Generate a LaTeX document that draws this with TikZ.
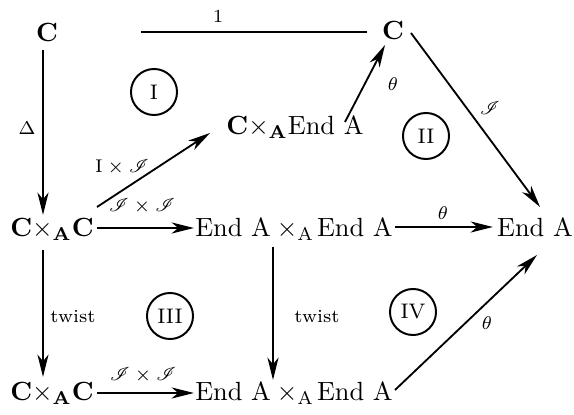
\documentclass[tikz,border=0pt]{standalone}
\usepackage{mathrsfs}
\usetikzlibrary{arrows.meta,calc}
\tikzset{
  obj/.style={anchor=base,inner sep=0pt,font=\normalsize},
  arr/.style={-{Stealth[length=8.5pt,width=4.2pt,inset=2.5pt]},line width=0.7pt},
  plainline/.style={line width=0.7pt},
  lbl/.style={font=\scriptsize,inner sep=0pt},
  reg/.style={draw,circle,line width=0.75pt,minimum size=17.5pt,inner sep=0pt,font=\footnotesize},
}
\begin{document}
\begin{tikzpicture}[x=0.38pt,y=-0.38pt]
\useasboundingbox (0,0) rectangle (574,415);
% objects
\node[obj] (C1) at (47,42) {$\mathbf{C}$};
\node[obj] (C2) at (393,40) {$\mathbf{C}$};
\node[obj] (CE) at (295,135) {$\mathbf{C}{\times}_{\mathbf{A}}\mbox{End A}$};
\node[obj] (CC) at (52,237) {$\mathbf{C}{\times}_{\mathbf{A}}\mathbf{C}$};
\node[obj] (EE) at (294,237) {$\mbox{End A}\mkern4mu{\times}_{\mathrm{A}}\mkern2mu\mbox{End A}$};
\node[obj] (E) at (535,237) {End A};
\node[obj] (CCb) at (52,401) {$\mathbf{C}{\times}_{\mathbf{A}}\mathbf{C}$};
\node[obj] (EEb) at (294,401) {$\mbox{End A}\mkern4mu{\times}_{\mathrm{A}}\mkern2mu\mbox{End A}$};
% regions
\node[reg] (rI) at (154,92) {I};
\node[reg] (rII) at (426,136) {II};
\node[reg] (rIII) at (170,316) {III};
\node[reg] (rIV) at (413,312) {IV};
% connectors
\draw[plainline] ($(C1.base)+(94,-10)$) -- ($(C2.base)+(-26,-8)$);
\draw[arr] ($(C1.base)+(-4,8)$) -- ($(CC.base)+(-9,-22)$);
\draw[arr] ($(CC.base)+(45,-30)$) -- ($(CE.base)+(-85,-2)$);
\draw[arr] ($(CE.base)+(50,-13)$) -- ($(C2.base)+(-8,5)$);
\draw[arr] ($(C2.base)+(18,-7)$) -- ($(E.base)+(5,-30)$);
\draw[arr] ($(CC.base)+(45,-9)$) -- ($(EE.base)+(-100,-9)$);
\draw[arr] ($(EE.base)+(101,-10)$) -- ($(E.base)+(-42,-10)$);
\draw[arr] ($(CC.base)+(-9,13)$) -- ($(CCb.base)+(-9,-24)$);
\draw[arr] ($(EE.base)+(-21,10)$) -- ($(EEb.base)+(-21,-21)$);
\draw[arr] ($(CCb.base)+(45,-8)$) -- ($(EEb.base)+(-100,-8)$);
\draw[arr] ($(EEb.base)+(101,-11)$) -- ($(E.base)+(2,18)$);
% labels
\node[lbl] (l1) at (218,16) {1};
\node[lbl] (lD) at (27,128) {$\Delta$};
\node[lbl] (lIJ) at (122,167) {$\mathrm{I}\times\mathscr{I}$};
\node[lbl] (lth1) at (393,84) {$\theta$};
\node[lbl] (lJ) at (490,108) {$\mathscr{I}$};
\node[lbl] (lJJ) at (142,206) {$\mathscr{I}\times\mathscr{I}$};
\node[lbl] (lth2) at (443,213) {$\theta$};
\node[lbl] (ltw1) at (73,317) {twist};
\node[lbl] (ltw2) at (317,317) {twist};
\node[lbl] (lJJb) at (143,375) {$\mathscr{I}\times\mathscr{I}$};
\node[lbl] (lth3) at (487,323) {$\theta$};
\end{tikzpicture}
\end{document}
